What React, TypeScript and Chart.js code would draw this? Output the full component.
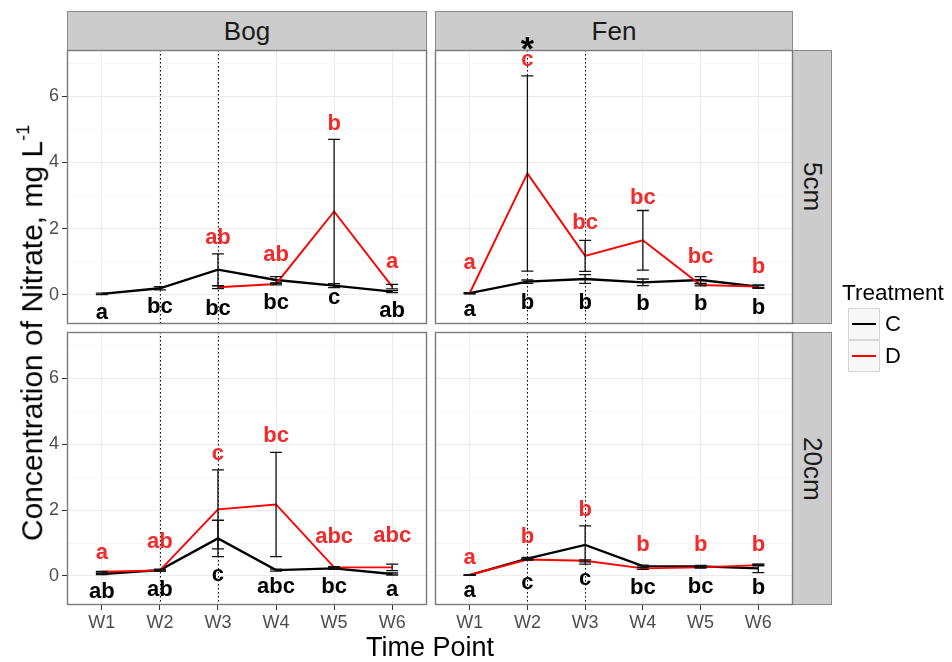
import React, { useEffect, useRef } from 'react';
import { Chart, registerables } from 'chart.js';

Chart.register(...registerables);

const FONT = '"Liberation Sans", Arial, Helvetica, sans-serif';

// ---------------- data ----------------
const timePoints = ['W1', 'W2', 'W3', 'W4', 'W5', 'W6'];
const yTickValues = [0, 1, 2, 3, 4, 5, 6, 7];
const dottedLines = ['W2', 'W3'];
const yMin = -0.88;
const yMax = 7.4;

// Bog, 5cm
const bog5C = [0.03, 0.2, 0.76, 0.45, 0.28, 0.1];
const bog5CErr = [0.02, 0.05, 0.48, 0.1, 0.06, 0.03];
const bog5D = [null, null, 0.23, 0.33, 2.52, 0.25];
const bog5DErr = [null, null, 0.04, 0.03, 2.18, 0.07];
const bog5CLetters = ['a', 'bc', 'bc', 'bc', 'c', 'ab'];
const bog5CLetterY = [-0.55, -0.35, -0.42, -0.23, -0.09, -0.5];
const bog5DLetters = [null, null, 'ab', 'ab', 'b', 'a'];
const bog5DLetterY = [null, null, 1.72, 1.21, 5.17, 1.01];

// Fen, 5cm
const fen5C = [0.05, 0.4, 0.48, 0.38, 0.45, 0.25];
const fen5CErr = [0.02, 0.05, 0.13, 0.1, 0.1, 0.05];
const fen5D = [0.05, 3.67, 1.18, 1.65, 0.3, 0.25];
const fen5DErr = [0.01, 2.95, 0.47, 0.9, 0.03, 0.03];
const fen5CLetters = ['a', 'b', 'b', 'b', 'b', 'b'];
const fen5CLetterY = [-0.45, -0.25, -0.25, -0.27, -0.28, -0.4];
const fen5DLetters = ['a', 'c', 'bc', 'bc', 'bc', 'b'];
const fen5DLetterY = [0.96, 7.1, 2.17, 2.93, 1.14, 0.83];
const fen5Star = { at: 'W2', y: 7.7, text: '*' };

// Bog, 20cm
const bog20C = [0.06, 0.18, 1.14, 0.18, 0.23, 0.06];
const bog20CErr = [0.02, 0.03, 0.55, 0.03, 0.03, 0.03];
const bog20D = [0.13, 0.17, 2.02, 2.17, 0.26, 0.26];
const bog20DErr = [0.01, 0.02, 1.2, 1.58, 0.02, 0.1];
const bog20CLetters = ['ab', 'ab', 'c', 'abc', 'bc', 'a'];
const bog20CLetterY = [-0.47, -0.42, 0.03, -0.32, -0.34, -0.42];
const bog20DLetters = ['a', 'ab', 'c', 'bc', 'abc', 'abc'];
const bog20DLetterY = [0.69, 1.04, 3.71, 4.26, 1.19, 1.2];

// Fen, 20cm
const fen20C = [0.03, 0.53, 0.94, 0.3, 0.29, 0.23];
const fen20CErr = [0.01, 0.03, 0.58, 0.03, 0.03, 0.13];
const fen20D = [0.03, 0.5, 0.46, 0.23, 0.26, 0.33];
const fen20DErr = [0.01, 0.02, 0.03, 0.03, 0.02, 0.02];
const fen20CLetters = ['a', 'c', 'c', 'bc', 'bc', 'b'];
const fen20CLetterY = [-0.44, -0.22, -0.1, -0.37, -0.34, -0.37];
const fen20DLetters = ['a', 'b', 'b', 'b', 'b', 'b'];
const fen20DLetterY = [0.56, 1.19, 1.99, 0.94, 0.94, 0.94];

const colC = '#000000';
const colD = '#ff0000';
const colDText = '#f42a2a';

type PanelCfg = {
  rect: { l: number; t: number; r: number; b: number };
  showX: boolean;
  showY: boolean;
  C: (number | null)[];
  CErr: (number | null)[];
  D: (number | null)[];
  DErr: (number | null)[];
  CLab: (string | null)[];
  CLabY: (number | null)[];
  DLab: (string | null)[];
  DLabY: (number | null)[];
  star: { at: string; y: number; text: string } | null;
};

const panels: PanelCfg[] = [
  { rect: { l: 67, t: 50, r: 427, b: 324 }, showX: false, showY: true,
    C: bog5C, CErr: bog5CErr, D: bog5D, DErr: bog5DErr,
    CLab: bog5CLetters, CLabY: bog5CLetterY, DLab: bog5DLetters, DLabY: bog5DLetterY, star: null },
  { rect: { l: 435, t: 50, r: 793, b: 324 }, showX: false, showY: false,
    C: fen5C, CErr: fen5CErr, D: fen5D, DErr: fen5DErr,
    CLab: fen5CLetters, CLabY: fen5CLetterY, DLab: fen5DLetters, DLabY: fen5DLetterY, star: fen5Star },
  { rect: { l: 67, t: 332, r: 427, b: 605 }, showX: true, showY: true,
    C: bog20C, CErr: bog20CErr, D: bog20D, DErr: bog20DErr,
    CLab: bog20CLetters, CLabY: bog20CLetterY, DLab: bog20DLetters, DLabY: bog20DLetterY, star: null },
  { rect: { l: 435, t: 332, r: 793, b: 605 }, showX: true, showY: false,
    C: fen20C, CErr: fen20CErr, D: fen20D, DErr: fen20DErr,
    CLab: fen20CLetters, CLabY: fen20CLetterY, DLab: fen20DLetters, DLabY: fen20DLetterY, star: null },
];

const W = 952;
const H = 662;
const Y_AXIS_W = 40;
const X_AXIS_H = 40;

function makePlugin(p: PanelCfg) {
  return {
    id: 'panelDeco',
    beforeDatasetsDraw(chart: any) {
      const { ctx, chartArea: a, scales } = chart;
      ctx.save();
      ctx.strokeStyle = '#000';
      ctx.lineWidth = 1;
      ctx.setLineDash([1.5, 2.5]);
      for (const name of dottedLines) {
        const x = Math.round(scales.x.getPixelForValue(timePoints.indexOf(name))) + 0.5;
        ctx.beginPath();
        ctx.moveTo(x, a.top);
        ctx.lineTo(x, a.bottom);
        ctx.stroke();
      }
      ctx.restore();
    },
    afterDatasetsDraw(chart: any) {
      const { ctx, scales } = chart;
      const xs = scales.x;
      const ys = scales.y;
      ctx.save();
      ctx.strokeStyle = '#111';
      ctx.lineWidth = 1.3;
      const bars = (m: (number | null)[], e: (number | null)[]) => {
        m.forEach((v, i) => {
          const er = e[i];
          if (v == null || er == null) return;
          const x = xs.getPixelForValue(i);
          const y1 = ys.getPixelForValue(v + er);
          const y2 = ys.getPixelForValue(v - er);
          ctx.beginPath();
          ctx.moveTo(x, y1);
          ctx.lineTo(x, y2);
          ctx.moveTo(x - 6, y1);
          ctx.lineTo(x + 6, y1);
          ctx.moveTo(x - 6, y2);
          ctx.lineTo(x + 6, y2);
          ctx.stroke();
        });
      };
      bars(p.C, p.CErr);
      bars(p.D, p.DErr);

      ctx.font = `bold 22px ${FONT}`;
      ctx.textAlign = 'center';
      ctx.textBaseline = 'middle';
      const labels = (lab: (string | null)[], ly: (number | null)[], color: string) => {
        ctx.fillStyle = color;
        lab.forEach((t, i) => {
          const yv = ly[i];
          if (t == null || yv == null) return;
          ctx.fillText(t, xs.getPixelForValue(i), ys.getPixelForValue(yv));
        });
      };
      labels(p.CLab, p.CLabY, '#000');
      labels(p.DLab, p.DLabY, colDText);
      ctx.restore();
    },
    afterDraw(chart: any) {
      const { ctx, chartArea: a, scales } = chart;
      ctx.save();
      ctx.strokeStyle = '#7a7a7a';
      ctx.lineWidth = 1.4;
      ctx.strokeRect(a.left + 0.5, a.top + 0.5, a.right - a.left - 1, a.bottom - a.top - 1);
      if (p.star) {
        const fs = 34;
        ctx.font = `bold ${fs}px ${FONT}`;
        ctx.textAlign = 'center';
        ctx.textBaseline = 'alphabetic';
        ctx.fillStyle = '#000';
        const x = scales.x.getPixelForValue(timePoints.indexOf(p.star.at));
        const y = scales.y.getPixelForValue(p.star.y) + 0.58 * fs;
        ctx.fillText(p.star.text, x, y);
      }
      ctx.restore();
    },
  };
}

function Panel({ p }: { p: PanelCfg }) {
  const ref = useRef<HTMLCanvasElement>(null);
  useEffect(() => {
    const yW = p.showY ? Y_AXIS_W : 0;
    const xH = p.showX ? X_AXIS_H : 0;
    const toPts = (arr: (number | null)[]) => arr.map((v, i) => ({ x: i, y: v }));
    const chart = new Chart(ref.current as HTMLCanvasElement, {
      type: 'line',
      data: {
        datasets: [
          { label: 'D', data: toPts(p.D) as any, borderColor: colD, borderWidth: 1.9, pointRadius: 0, spanGaps: false, tension: 0, order: 0 },
          { label: 'C', data: toPts(p.C) as any, borderColor: colC, borderWidth: 2.3, pointRadius: 0, spanGaps: false, tension: 0, order: 1 },
        ],
      },
      options: {
        responsive: false,
        animation: false,
        devicePixelRatio: 1,
        events: [],
        layout: {
          padding: {
            left: p.rect.l - yW,
            top: p.rect.t,
            right: W - p.rect.r,
            bottom: H - p.rect.b - xH,
          },
        },
        plugins: { legend: { display: false }, tooltip: { enabled: false } },
        scales: {
          x: {
            type: 'linear',
            min: -0.6,
            max: 5.6,
            bounds: 'data',
            afterBuildTicks: (s: any) => { s.ticks = timePoints.map((_, i) => ({ value: i })); },
            afterFit: (s: any) => { s.height = xH; },
            ticks: {
              display: p.showX,
              autoSkip: false,
              maxRotation: 0,
              padding: 2,
              color: '#4d4d4d',
              font: { family: FONT, size: 18 },
              callback: (v: any) => timePoints[v] ?? '',
            },
            grid: { color: '#ebebeb', lineWidth: 1, drawTicks: p.showX, tickLength: 5, tickColor: '#333' },
            border: { display: false },
          },
          y: {
            type: 'linear',
            min: yMin,
            max: yMax,
            bounds: 'data',
            afterBuildTicks: (s: any) => { s.ticks = yTickValues.map((v) => ({ value: v })); },
            afterFit: (s: any) => { s.width = yW; },
            ticks: {
              display: p.showY,
              padding: 3,
              color: '#4d4d4d',
              font: { family: FONT, size: 18 },
              callback: (v: any) => (v % 2 === 0 ? String(v) : ''),
            },
            grid: {
              color: (c: any) => (c.tick && c.tick.value % 2 === 0 ? '#ebebeb' : '#f7f7f7'),
              lineWidth: 1,
              drawTicks: p.showY,
              tickLength: 5,
              tickColor: (c: any) => (c.tick && c.tick.value % 2 === 0 ? '#333' : 'rgba(0,0,0,0)'),
            },
            border: { display: false },
          },
        },
      } as any,
      plugins: [makePlugin(p)],
    });
    return () => chart.destroy();
  }, [p]);
  return (
    <canvas
      ref={ref}
      width={W}
      height={H}
      style={{ position: 'absolute', left: 0, top: 0, width: W, height: H }}
    />
  );
}

const stripBase: React.CSSProperties = {
  position: 'absolute',
  background: '#cccccc',
  border: '1px solid #8a8a8a',
  boxSizing: 'border-box',
  display: 'flex',
  alignItems: 'center',
  justifyContent: 'center',
  fontSize: 26,
  color: '#1a1a1a',
};

export default function App() {
  return (
    <div style={{ position: 'absolute', left: 0, top: 0, width: W, height: H, background: '#fff', fontFamily: FONT, overflow: 'hidden' }}>
      {/* column strips */}
      <div style={{ ...stripBase, left: 67, top: 11, width: 360, height: 40 }}>Bog</div>
      <div style={{ ...stripBase, left: 435, top: 11, width: 358, height: 40 }}>Fen</div>
      {/* row strips */}
      <div style={{ ...stripBase, left: 792, top: 50, width: 40, height: 274 }}>
        <span style={{ writingMode: 'vertical-rl' }}>5cm</span>
      </div>
      <div style={{ ...stripBase, left: 792, top: 332, width: 40, height: 273 }}>
        <span style={{ writingMode: 'vertical-rl' }}>20cm</span>
      </div>

      {panels.map((p, i) => (
        <Panel key={i} p={p} />
      ))}

      {/* axis titles */}
      <div style={{ position: 'absolute', left: 430, top: 647, transform: 'translate(-50%, -50%)', fontSize: 27, whiteSpace: 'nowrap', color: '#000' }}>
        Time Point
      </div>
      <div style={{ position: 'absolute', left: 31, top: 333, transform: 'translate(-50%, -50%) rotate(-90deg)', fontSize: 30, whiteSpace: 'nowrap', color: '#000' }}>
        Concentration of Nitrate, mg L<sup style={{ fontSize: '0.6em', verticalAlign: '0.7em' }}>-1</sup>
      </div>

      {/* legend */}
      <div style={{ position: 'absolute', left: 842, top: 281, fontSize: 22.5, color: '#000', whiteSpace: 'nowrap', lineHeight: '24px' }}>Treatment</div>
      <div style={{ position: 'absolute', left: 848, top: 308, width: 32, height: 32, background: '#f7f7f7', border: '1px solid #d6d6d6', boxSizing: 'border-box' }}>
        <div style={{ position: 'absolute', left: 3, right: 3, top: 14, height: 2, background: colC }} />
      </div>
      <div style={{ position: 'absolute', left: 848, top: 340, width: 32, height: 32, background: '#f7f7f7', border: '1px solid #d6d6d6', boxSizing: 'border-box' }}>
        <div style={{ position: 'absolute', left: 3, right: 3, top: 14, height: 2, background: colD }} />
      </div>
      <div style={{ position: 'absolute', left: 885, top: 312, fontSize: 22, lineHeight: '24px', color: '#000' }}>C</div>
      <div style={{ position: 'absolute', left: 885, top: 344, fontSize: 22, lineHeight: '24px', color: '#000' }}>D</div>
    </div>
  );
}
